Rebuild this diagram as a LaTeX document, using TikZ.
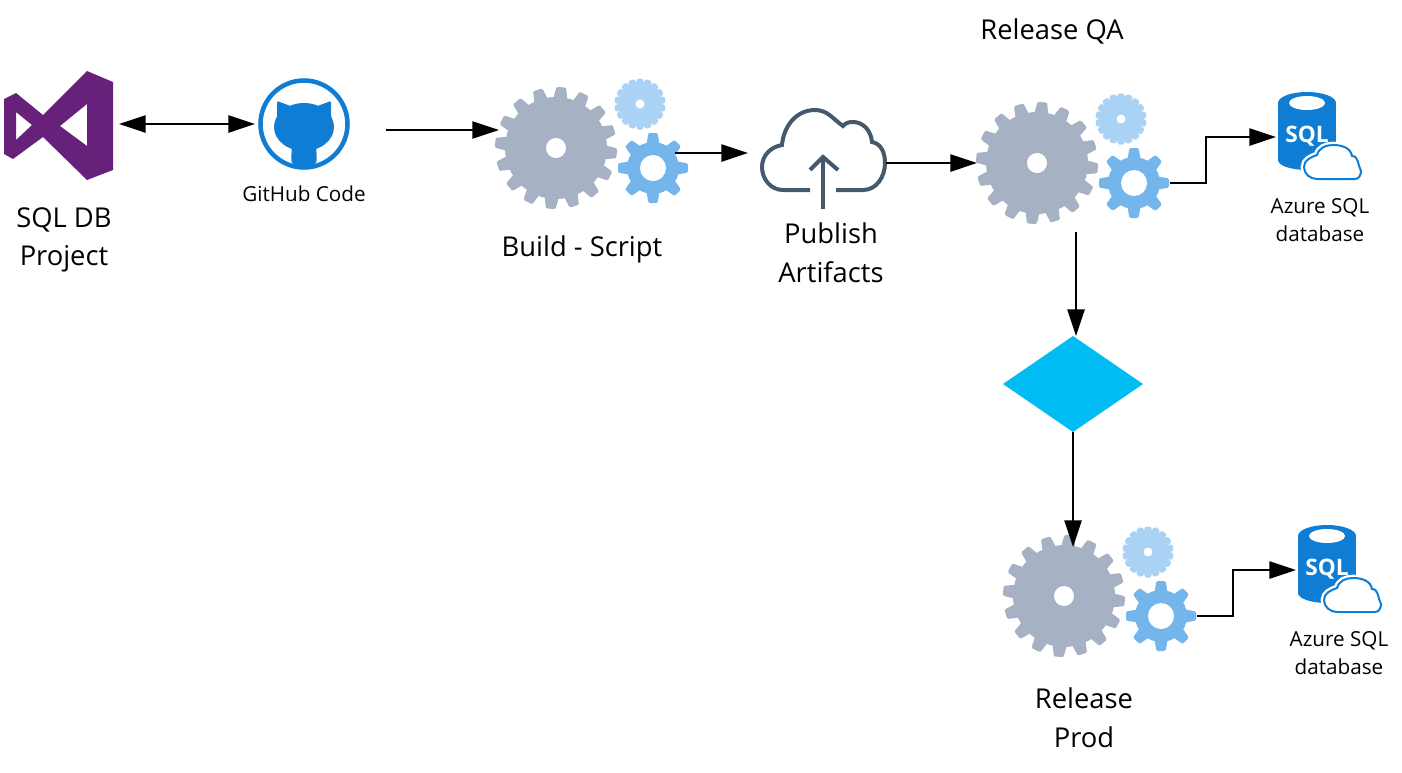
\documentclass[tikz,border=0pt]{standalone}
\usepackage{fontspec}
\usepackage{xcolor}
\usepackage{tikz}
\usetikzlibrary{arrows.meta}
\usetikzlibrary{shapes.geometric}
\setmainfont{Open Sans}

\definecolor{vspurple}{HTML}{68217A}
\definecolor{azureblue}{HTML}{0F7DD3}
\definecolor{gearslate}{HTML}{A7B1C4}
\definecolor{gearmid}{HTML}{74B5EC}
\definecolor{gearpale}{HTML}{A9D2F5}
\definecolor{cloudslate}{HTML}{44596C}
\definecolor{gatecyan}{HTML}{00BCF2}

\newcommand{\gearwheel}[8]{%
    \fill[#3] (#1,#2) circle (#5);
    \foreach \a in {1,...,#4}{
        \fill[#3, shift={(#1,#2)}, rotate=\a*360/#4, rounded corners=1pt]
            ({-#7/2},{#5-2}) -- ({-#7*0.35},#6) -- ({#7*0.35},#6) -- ({#7/2},{#5-2}) -- cycle;
    }
    \fill[white] (#1,#2) circle (#8);
}

\tikzset{
    link/.style={draw=black, line width=1.2pt, -{Triangle[length=20pt,width=13pt]}},
    bothlink/.style={link, {Triangle[length=20pt,width=13pt]}-{Triangle[length=20pt,width=13pt]}},
    iconbox/.style={inner sep=0pt, outer sep=0pt},
    biglabel/.style={inner sep=0pt, align=center, font=\fontsize{20.5}{29}\selectfont},
    smalllabel/.style={inner sep=0pt, align=center, font=\fontsize{15.5}{21.5}\selectfont},
    pics/gearset/.style={code={
        \begin{scope}[rotate=-5]
            \gearwheel{0}{0}{gearslate}{16}{51}{61}{14}{10}
        \end{scope}
        \gearwheel{84}{-44}{gearpale}{18}{19}{25.5}{9}{4.5}
        \gearwheel{97}{20}{gearmid}{8}{26}{35}{13}{13}
        \node[iconbox, circle, minimum size=90pt] (big) at (0,0) {};
        \node[iconbox, circle, minimum size=52.5pt] (mid) at (98,20) {};
    }},
    pics/sqlicon/.style={code={
        \fill[azureblue] (-12,-34) circle [x radius=29, y radius=11];
        \fill[azureblue] (-41,-34) rectangle (17,23);
        \fill[azureblue] (-12,23) circle [x radius=29, y radius=10];
        \fill[white] (-12,-34) circle [x radius=18, y radius=7];
        \node[inner sep=0pt, text=white, font=\fontsize{17}{17}\selectfont\bfseries] (text) at (-12,-1) {SQL};
        \draw[white, fill=white, line width=5pt] (-2,42) to[out=180,in=270] (-15,30) to[out=90,in=200] (-2,18)
            to[out=75,in=180] (14,8) to[out=0,in=100] (33,19) to[out=0,in=120] (42,34) to[out=270,in=0] (36,42) -- cycle;
        \draw[azureblue, fill=white, line width=1.5pt] (-2,42) to[out=180,in=270] (-15,30) to[out=90,in=200] (-2,18)
            to[out=75,in=180] (14,8) to[out=0,in=100] (33,19) to[out=0,in=120] (42,34) to[out=270,in=0] (36,42) -- cycle;
    }},
}

\begin{document}
\begin{tikzpicture}[x=0.75pt, y=-0.75pt]
    \useasboundingbox (0,0) rectangle (1402,772);

    \fill[vspurple, even odd rule] (87,71) -- (113,82) -- (113,170) -- (87,180) -- (43,137) -- (13,159) -- (4,154) -- (4,99) -- (16,93) -- (43,115) -- cycle
        (16,112) -- (32,125) -- (16,140) -- cycle
        (87,104) -- (60,126) -- (87,146) -- cycle;
    \node[iconbox, minimum width=87pt, minimum height=82.5pt] (vsicon) at (61,124) {};
    \node[biglabel] (vstext) at (64,240) {SQL DB\\Project};

    \draw[azureblue, line width=3.4pt] (304,124) circle (43.5);
    \fill[azureblue] (304,127) circle [x radius=30, y radius=24];
    \fill[azureblue, rounded corners=1pt] (277,122) -- (277,101) -- (296,108) -- (312,108) -- (331,101) -- (331,122) -- cycle;
    \fill[azureblue, rounded corners=5pt] (292,140) -- (316,140) -- (317,166) -- (291,166) -- cycle;
    \node[iconbox, circle, minimum size=73.5pt] (hubicon) at (304,124) {};
    \node[smalllabel] (hubtext) at (304,194) {GitHub Code};

    \pic (buildgears) at (556,148) {gearset};
    \node[biglabel] (buildtext) at (582,249) {Build - Script};

    \draw[cloudslate, line width=3pt] (810,190) -- (783,190) to[out=180,in=270] (762,167) to[out=90,in=190] (782,145)
        to[out=85,in=180] (815,110) to[out=0,in=145] (843,126) to[out=50,in=180] (853,122) to[out=0,in=95] (872,142)
        to[out=-10,in=90] (885,163) to[out=270,in=0] (863,190) -- (836,190);
    \draw[cloudslate, line width=3pt] (823,209) -- (823,157);
    \draw[cloudslate, line width=3pt] (810,170) -- (823,157) -- (838,170);
    \node[iconbox, minimum width=94.5pt, minimum height=79.5pt] (cloudicon) at (823,163) {};
    \node[biglabel] (cloudtext) at (831,253) {Publish\\Artifacts};

    \node[biglabel] (qatext) at (1052,31) {Release QA};
    \pic (qagears) at (1037,163) {gearset};
    \pic (qasql) at (1319,137) {sqlicon};
    \node[iconbox, minimum width=64.5pt, minimum height=66pt] (qadb) at (1319,137) {};
    \node[smalllabel] (qadbtext) at (1320,220) {Azure SQL\\database};

    \node[diamond, fill=gatecyan, iconbox, minimum width=105pt, minimum height=72pt] (gate) at (1073,384) {};

    \pic (prodgears) at (1064,596) {gearset};
    \node[biglabel] (prodtext) at (1084,718) {Release\\Prod};
    \pic (prodsql) at (1339,570) {sqlicon};
    \node[iconbox, minimum width=64.5pt, minimum height=66pt] (proddb) at (1339,570) {};
    \node[smalllabel] (proddbtext) at (1339,653) {Azure SQL\\database};

    \coordinate (hubout) at (386,130);
    \coordinate (buildout) at (675,153);
    \coordinate (cloudin) at (748,153);
    \coordinate (qaout) at (1076,232);
    \coordinate (prodin) at (1073,547);

    \draw[bothlink] (vsicon.east) -- (hubicon.west);
    \draw[link] (hubout) -- (hubout -| buildgearsbig.162);
    \draw[link] (buildout) -- (cloudin);
    \draw[link] (cloudicon.east) -- (qagearsbig.west);
    \draw[link] (qagearsmid.east) -- ++(36,0) |- (qadb.west);
    \draw[link] (qaout) -- (qaout |- gate.north);
    \draw[link] (gate.south) -- (prodin);
    \draw[link] (prodgearsmid.east) -- ++(36,0) |- (proddb.west);
\end{tikzpicture}
\end{document}
